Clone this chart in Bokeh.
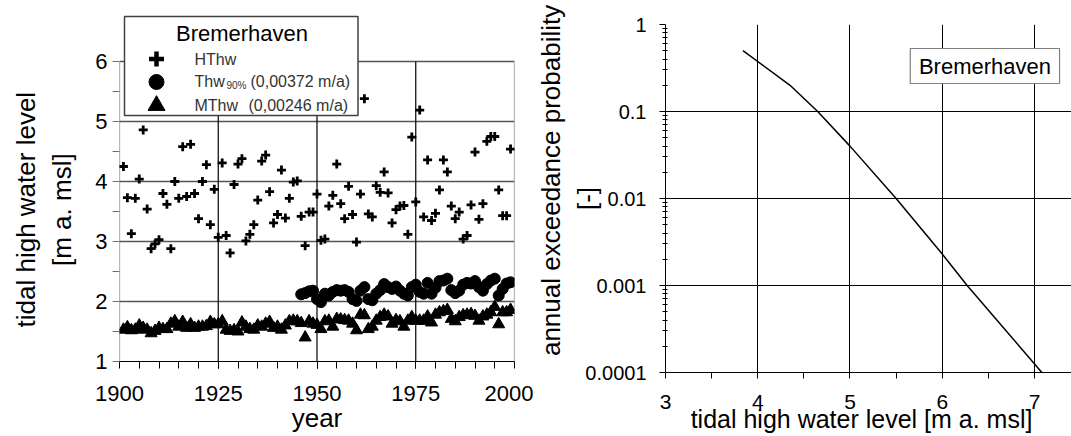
from bokeh.plotting import figure
from bokeh.models import Range1d, FixedTicker, Label, CustomJSTickFormatter
from bokeh.layouts import row
from bokeh.embed import file_html
from bokeh.resources import INLINE

# ---------------- data ----------------
years_hthw = list(range(1901, 2000))
hthw = [4.25, 3.73, 3.13, 3.72, 4.04, 4.86, 3.54, 2.88, 2.96, 3.03,
        3.80, 3.62, 2.88, 4.00, 3.72, 4.58, 3.75, 4.62, 3.80, 3.38,
        4.00, 4.28, 3.28, 3.87, 3.07, 4.31, 3.10, 2.81, 3.95, 4.29,
        4.38, 3.01, 3.12, 3.28, 3.69, 4.34, 4.44, 3.83, 3.31, 3.45,
        4.19, 3.39, 3.72, 3.99, 4.01, 3.42, 2.93, 3.49, 3.49, 3.79,
        3.02, 3.04, 3.59, 3.77, 4.29, 3.63, 3.38, 3.92, 3.45, 2.99,
        3.79, 5.38, 3.46, 3.41, 3.93, 3.82, 4.16, 3.81, 3.31, 3.53,
        3.59, 3.60, 3.12, 4.74, 3.66, 5.19, 3.41, 4.36, 3.35, 3.47,
        3.86, 4.36, 4.16, 3.59, 3.38, 3.49, 3.04, 3.10, 3.61, 4.49,
        3.37, 3.63, 4.67, 4.75, 4.75, 3.86, 3.43, 3.43, 4.54]

years_mthw = list(range(1901, 2000))
mthw = [1.53, 1.57, 1.52, 1.53, 1.60, 1.56, 1.53, 1.47, 1.51, 1.56,
        1.54, 1.54, 1.63, 1.67, 1.58, 1.66, 1.56, 1.62, 1.56, 1.58,
        1.58, 1.59, 1.66, 1.62, 1.62, 1.67, 1.53, 1.51, 1.52, 1.50,
        1.65, 1.58, 1.54, 1.53, 1.60, 1.58, 1.63, 1.66, 1.56, 1.58,
        1.53, 1.60, 1.67, 1.68, 1.67, 1.64, 1.40, 1.67, 1.63, 1.61,
        1.54, 1.67, 1.68, 1.58, 1.71, 1.70, 1.69, 1.68, 1.63, 1.52,
        1.78, 1.77, 1.54, 1.58, 1.68, 1.74, 1.78, 1.75, 1.63, 1.69,
        1.67, 1.58, 1.68, 1.74, 1.68, 1.68, 1.68, 1.75, 1.65, 1.78,
        1.82, 1.84, 1.86, 1.71, 1.67, 1.74, 1.77, 1.78, 1.79, 1.76,
        1.68, 1.75, 1.78, 1.82, 1.91, 1.62, 1.82, 1.82, 1.86]

years_thw90 = list(range(1946, 2000))
thw90 = [2.12, 2.14, 2.17, 2.18, 2.04, 1.99, 2.13, 2.10, 2.16, 2.19,
         2.18, 2.19, 2.16, 2.04, 2.01, 2.18, 2.24, 2.04, 2.02, 2.13,
         2.19, 2.29, 2.24, 2.21, 2.25, 2.18, 2.13, 2.10, 2.24, 2.28,
         2.16, 2.13, 2.31, 2.13, 2.23, 2.34, 2.35, 2.38, 2.19, 2.14,
         2.18, 2.28, 2.31, 2.30, 2.34, 2.24, 2.18, 2.29, 2.35, 2.38,
         2.10, 2.21, 2.30, 2.32]

exc_level = [3.84, 4.35, 4.65, 5.0, 5.5, 6.0, 6.27, 7.08]
exc_prob = [0.5, 0.2, 0.1, 0.04, 0.01, 0.0023, 0.001, 0.0001]

year_ticks = [1900, 1925, 1950, 1975, 2000]
level_ticks = [1, 2, 3, 4, 5, 6]
prob_ticks = [0.0001, 0.001, 0.01, 0.1, 1]
level2_ticks = [3, 4, 5, 6, 7]

FONT = "Liberation Sans"
NB = "\u00a0"

# ---------------- pixel helpers (layout only) ----------------
L_X0, L_X1, L_YT, L_YB = 119, 514, 14, 361
def xl(px):
    return 1900 + (px - L_X0) * 100.0 / (L_X1 - L_X0)
def yl(py):
    return 1 + (L_YB - py) / 60.0

R_X0, R_X1, R_YT, R_YB = 663, 1071, 24, 372
def xr(px):
    return 3 + (px - R_X0) / 92.7
def yr(py):
    return 10 ** (-(py - R_YT) / 87.0)

def lab(p, x, y, text, size, align="center", baseline="middle", color="black"):
    p.add_layout(Label(x=x, y=y, text=text, text_font=FONT, text_font_size=f"{size}px",
                       text_align=align, text_baseline=baseline, text_color=color))

def style_title(ax, size, standoff):
    ax.axis_label_text_font = FONT
    ax.axis_label_text_font_size = f"{size}px"
    ax.axis_label_text_font_style = "normal"
    ax.axis_label_text_color = "black"
    ax.axis_label_standoff = standoff

# ---------------- left figure ----------------
W1 = 533
p = figure(width=W1, height=436, output_backend="svg", toolbar_location=None,
           x_range=Range1d(1900, 2000), y_range=Range1d(1, yl(L_YT)),
           min_border_left=L_X0, min_border_right=W1 - L_X1,
           min_border_top=L_YT, min_border_bottom=436 - L_YB,
           frame_align=False)
p.outline_line_color = None
p.background_fill_color = "white"
p.border_fill_color = "white"

p.yaxis.ticker = FixedTicker(ticks=level_ticks, minor_ticks=[1.5, 2.5, 3.5, 4.5, 5.5])
p.xaxis.ticker = FixedTicker(ticks=year_ticks, minor_ticks=list(range(1905, 2000, 5)))
for ax in (p.xaxis[0], p.yaxis[0]):
    ax.major_tick_out = 7
    ax.major_tick_in = 0
    ax.minor_tick_out = 7
    ax.minor_tick_in = 0
    ax.major_label_text_font = FONT
    ax.major_label_text_font_size = "22px"
    ax.major_label_text_color = "black"
p.yaxis.axis_line_color = None
p.yaxis.major_tick_line_color = "#707070"
p.yaxis.minor_tick_line_color = "#707070"
p.yaxis.major_label_standoff = 5
p.xaxis.axis_line_color = "black"
p.xaxis.major_tick_line_color = "black"
p.xaxis.minor_tick_line_color = "black"
p.xaxis.major_label_standoff = 17

pad_l = NB * 6
p.yaxis.axis_label = "tidal high water level" + pad_l + "\n[m a. msl]" + pad_l
style_title(p.yaxis[0], 26, 15)
p.xaxis.axis_label = "year"
style_title(p.xaxis[0], 26, -1)

p.xgrid.visible = False
p.ygrid.grid_line_color = "#555555"
p.ygrid.grid_line_width = 1.3

# frame sides and vertical grid lines (between level 1 and 6)
p.segment(x0=year_ticks, y0=[level_ticks[0]] * 5, x1=year_ticks, y1=[level_ticks[-1]] * 5,
          line_color=["#707070", "black", "black", "black", "#707070"], line_width=1.2)

p.scatter(years_mthw, mthw, marker="triangle", size=12, color="black")
p.scatter(years_thw90, thw90, marker="circle", size=11, color="black")
p.scatter(years_hthw, hthw, marker="cross", size=9, line_width=2.8, color="black")

# legend box
p.quad(left=[xl(124)], right=[xl(357.5)], top=[yl(16)], bottom=[yl(115)],
       fill_color="white", line_color="#404040", line_width=1.5)
p.scatter([xl(156)], [yl(58.5)], marker="cross", size=15, line_width=4.5, color="black")
p.scatter([xl(156)], [yl(81.5)], marker="circle", size=15, color="black")
p.scatter([xl(156)], [yl(105)], marker="triangle", size=17, color="black")
lab(p, xl(241.5), yl(33), "Bremerhaven", 22)
lab(p, xl(194), yl(58.5), "HThw", 16, align="left", color="#333333")
lab(p, xl(194), yl(81), "Thw", 16, align="left", color="#333333")
lab(p, xl(226), yl(85), "90%", 10, align="left", color="#333333")
lab(p, xl(250), yl(81), "(0,00372 m/a)", 16, align="left", color="#333333")
lab(p, xl(194), yl(105), "MThw", 16, align="left", color="#333333")
lab(p, xl(248), yl(105), "(0,00246 m/a)", 16, align="left", color="#333333")

# ---------------- right figure ----------------
W2 = 1071 - W1
q = figure(width=W2, height=436, output_backend="svg", toolbar_location=None,
           y_axis_type="log",
           x_range=Range1d(3, xr(R_X1)), y_range=Range1d(prob_ticks[0], prob_ticks[-1]),
           min_border_left=R_X0 - W1, min_border_right=0,
           min_border_top=R_YT, min_border_bottom=436 - R_YB,
           frame_align=False)
q.outline_line_color = None
q.background_fill_color = "white"
q.border_fill_color = "white"

minor_p = [k * 10.0 ** e for e in range(-4, 0) for k in range(2, 10)]
q.yaxis.ticker = FixedTicker(ticks=prob_ticks, minor_ticks=minor_p)
q.yaxis.formatter = CustomJSTickFormatter(code="return tick.toString();")
q.xaxis.ticker = FixedTicker(ticks=level2_ticks, minor_ticks=[3.5, 4.5, 5.5, 6.5])
for ax in (q.xaxis[0], q.yaxis[0]):
    ax.major_tick_out = 6
    ax.major_tick_in = 0
    ax.major_label_text_font = FONT
    ax.major_label_text_color = "black"
    ax.axis_line_color = "black"
    ax.major_tick_line_color = "black"
    ax.minor_tick_line_color = "black"
q.yaxis.major_label_text_font_size = "20px"
q.xaxis.major_label_text_font_size = "21px"
q.xaxis.minor_tick_out = 6
q.xaxis.minor_tick_in = 0
q.yaxis.minor_tick_out = 3
q.yaxis.minor_tick_in = 2
q.yaxis.major_label_standoff = 13
q.xaxis.major_label_standoff = 16
q.xgrid.grid_line_color = "black"
q.ygrid.grid_line_color = "black"
q.xgrid.grid_line_width = 1
q.ygrid.grid_line_width = 1

q.yaxis.axis_label = NB * 5 + "annual exceedance probability\n[-]"
style_title(q.yaxis[0], 26, -20)
q.xaxis.axis_label = "tidal high water level [m a. msl]" + NB * 2
style_title(q.xaxis[0], 25, -7)

q.line(exc_level, exc_prob, line_color="black", line_width=1.5)

q.quad(left=[xr(909)], right=[xr(1059)], top=[yr(48)], bottom=[yr(83)],
       fill_color="white", line_color="#808080", line_width=1.2)
lab(q, xr(984), yr(66), "Bremerhaven", 22)

layout = row(p, q)
open("out.html", "w").write(file_html(layout, INLINE))
